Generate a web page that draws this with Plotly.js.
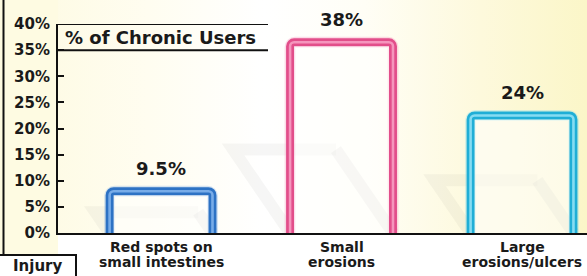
<!DOCTYPE html>
<html><head><meta charset="utf-8">
<script src="https://cdn.plot.ly/plotly-3.0.1.min.js"></script>
<style>
html,body{margin:0;padding:0;background:#fff;}
#wrap{width:587px;height:276px;background:linear-gradient(to right,#fdfae0 0%,#fffdf0 25%,#ffffff 45%,#fffef6 62%,#fdf9dc 82%,#fbf6c8 100%);}
#chart{width:587px;height:276px;}
</style></head><body><div id="wrap"><div id="chart"></div></div>
<script>
// ---- data ----
const categories = ['Red spots on<br>small intestines', 'Small<br>erosions', 'Large<br>erosions/ulcers'];
const values = [9.5, 38, 24];
const valueLabels = ['9.5%', '38%', '24%'];
const yTickVals = [0, 5, 10, 15, 20, 25, 30, 35, 40];
const yTickText = ['0%', '5%', '10%', '15%', '20%', '25%', '30%', '35%', '40%'];
const seriesName = '% of Chronic Users';
const panelLabel = 'Injury';

// ---- style ----
const darkColors = ['#2d72c4', '#e24e8a', '#20aed6'];
const lightColors = ['#78ace8', '#f595bd', '#86dcf2'];
const glowColors = ['rgba(120,170,230,0.3)', 'rgba(245,140,185,0.3)', 'rgba(120,215,240,0.3)'];
const FONT = 'DejaVu Sans';
const W = 587, H = 276, ML = 58, MR = 0, MT = 24, MB = 43;
const PW = W - ML - MR, PH = H - MT - MB;
const xp = px => (px - ML) / PW;
const yp = py => (H - MB - py) / PH;
const barW = 0.57;
const xRange = [-0.571, 2.36];
const pxPerUnit = PW / (xRange[1] - xRange[0]);

const common = {type: 'bar', x: categories, y: values, width: barW, base: -1.5, hoverinfo: 'skip', showlegend: false};
const traces = [
  Object.assign({}, common, {marker: {color: 'rgba(0,0,0,0)', cornerradius: 5, line: {color: glowColors, width: 11}}}),
  Object.assign({}, common, {marker: {color: 'rgba(255,255,255,0.55)', cornerradius: 4, line: {color: darkColors, width: 8}}}),
  Object.assign({}, common, {marker: {color: 'rgba(0,0,0,0)', cornerradius: 4, line: {color: lightColors, width: 2.6}}})
];

const shapes = [];
shapes.push({type: 'rect', xref: 'paper', yref: 'paper', x0: 0, x1: 1, y0: yp(H + 2), y1: 0, fillcolor: '#ffffff', line: {width: 0}, layer: 'below'});
// shadows (projection of each bar outline), computed from values
values.forEach((v, i) => {
  const hw = barW / 2, k = 1.5 / pxPerUnit, s = 0.42;
  const xl = i - hw, xr = i + hw, dx = k * v, h = s * v;
  shapes.push({type: 'path', xref: 'x', yref: 'y', layer: 'below',
    path: `M ${xl},0 L ${xl - dx},${h} L ${xr - dx},${h}`,
    line: {color: 'rgba(110,110,110,0.06)', width: 12}});
  shapes.push({type: 'path', xref: 'x', yref: 'y', layer: 'below',
    path: `M ${xr - dx},${h} L ${xr},0`,
    line: {color: 'rgba(110,110,110,0.11)', width: 12}});
});
// left panel
shapes.push({type: 'rect', xref: 'paper', yref: 'paper', x0: xp(3), x1: xp(58), y0: yp(254), y1: yp(-2), fillcolor: '#fefbe2', line: {width: 0}, layer: 'below'});
shapes.push({type: 'line', xref: 'paper', yref: 'paper', x0: xp(3.5), x1: xp(3.5), y0: yp(254), y1: yp(-2), line: {color: '#111', width: 2}});
// legend box lines
shapes.push({type: 'line', xref: 'paper', yref: 'y', x0: 0, x1: xp(268), y0: 40, y1: 40, line: {color: '#111', width: 2}});
shapes.push({type: 'line', xref: 'paper', yref: 'y', x0: 0, x1: xp(268), y0: 35, y1: 35, line: {color: '#111', width: 2}});
// injury box
shapes.push({type: 'rect', xref: 'paper', yref: 'paper', x0: xp(-2), x1: xp(76), y0: yp(H + 2), y1: yp(255), fillcolor: '#ffffff', line: {color: '#111', width: 2}});

const labelFont = {family: FONT, weight: 'bold', size: 14, color: '#1a1a1a'};
const annotations = values.map((v, i) => ({
  x: categories[i], y: v, xref: 'x', yref: 'y', text: valueLabels[i], showarrow: false,
  yanchor: 'middle', yshift: 15, font: {family: FONT, weight: 'bold', size: 18, color: '#1a1a1a'}
}));
// category labels, one row per line (tighter line spacing than tick labels)
categories.forEach(c => {
  c.split('<br>').forEach((line, j) => {
    annotations.push({x: c, y: yp(247 + 15 * j), xref: 'x', yref: 'paper', text: line, showarrow: false,
      xanchor: 'center', yanchor: 'middle', font: labelFont});
  });
});
annotations.push({x: xp(63), y: 37.5, xref: 'paper', yref: 'y', xanchor: 'left', yanchor: 'middle', text: seriesName, showarrow: false,
  font: {family: FONT, weight: 'bold', size: 18, color: '#1a1a1a'}});
annotations.push({x: xp(37), y: yp(266), xref: 'paper', yref: 'paper', xanchor: 'center', yanchor: 'middle', text: panelLabel, showarrow: false,
  font: {family: FONT, weight: 'bold', size: 15, color: '#1a1a1a'}});

const layout = {
  width: W, height: H, margin: {l: ML, r: MR, t: MT, b: MB, pad: 0},
  paper_bgcolor: 'rgba(0,0,0,0)', plot_bgcolor: 'rgba(0,0,0,0)',
  barmode: 'overlay', showlegend: false,
  xaxis: {type: 'category', range: xRange, showline: true, linecolor: '#111', linewidth: 2, ticks: '', showgrid: false,
    showticklabels: false},
  yaxis: {range: [0, 40], tickvals: yTickVals, ticktext: yTickText, ticks: 'inside', ticklen: 6, tickwidth: 2, tickcolor: '#111',
    showline: true, linecolor: '#111', linewidth: 2, showgrid: false, zeroline: false,
    tickfont: {family: FONT, weight: 'bold', size: 15, color: '#1a1a1a'}, ticklabelstandoff: 3},
  shapes: shapes, annotations: annotations
};
Plotly.newPlot('chart', traces, layout, {displayModeBar: false, staticPlot: true});
</script></body></html>
